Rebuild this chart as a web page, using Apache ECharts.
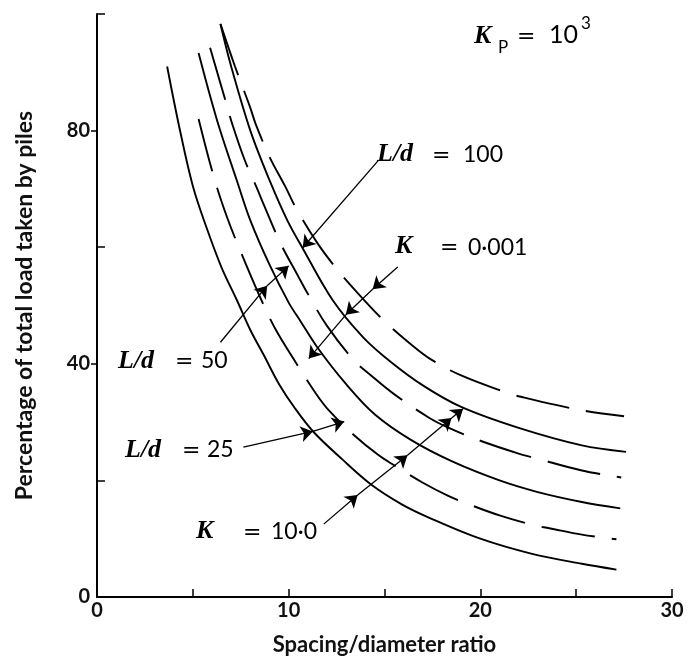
<!DOCTYPE html>
<html>
<head>
<meta charset="utf-8">
<script src="https://cdn.jsdelivr.net/npm/echarts@6/dist/echarts.min.js"></script>
<style>html,body{margin:0;padding:0;background:#fff}#c{width:688px;height:664px}</style>
</head>
<body>
<div id="c"></div>
<script>
// ---- data ----
const xLabelValues = [0, 10, 20, 30];
const xTickValues = [5, 10, 15, 20, 25, 30];
const yLabelValues = [0, 40, 80];
const yInnerTickValues = [20, 60, 100];

// solid curves (bottom to top)
const curveS1 = [[3.66,91],[4.3,80.5],[5.0,70.5],[5.7,63.5],[6.5,56.5],[7.3,50.9],[8.0,45.8],[8.7,41.5],[9.5,36.5],[10.3,32.5],[11.3,28.3],[12.8,23.6],[14.3,19.3],[15.9,15.9],[17.4,13.5],[20,10],[22.7,7.4],[25.3,5.7],[27.1,4.7]];
const curveS2 = [[5.3,93.3],[6.27,81.7],[7.3,71.4],[8.0,64.6],[9.0,57],[10.0,50.5],[10.6,47.4],[11.5,42.8],[13,36.5],[14.5,31.3],[16.4,26.9],[18.5,23.3],[21,20],[23,18],[25.3,16.3],[27.3,15.2]];
const curveS3 = [[6.44,98.3],[7.0,91],[8.0,80],[9.0,71.5],[9.93,64.6],[10.7,60],[12.3,50.9],[13.9,44.5],[15.3,40.4],[17,36.3],[19.0,32.6],[22,29],[25.3,26.0],[27.6,24.9]];
// dashed curves (bottom to top)
const curveD1 = [[5.3,82],[6.1,72],[6.8,65],[7.5,59.2],[8.5,51.5],[9.3,46],[10.3,40.6],[11.4,35],[12.1,32],[13.4,27.8],[14.7,24.3],[15.5,22.6],[17,19.6],[18.3,17.4],[19.4,15.9],[21,14],[22.8,12.3],[23.6,11.8],[25.3,10.7],[27.1,9.9]];
const curveD2 = [[5.9,94.2],[6.75,84.6],[7.05,81.2],[7.7,75],[8.36,70],[8.7,67.3],[9.6,60.5],[10.5,55],[11.0,52],[12.0,46.5],[13.4,40.6],[14.3,38],[15.5,34.8],[17.3,30.8],[18.3,29.1],[20,26.8],[22.0,24.6],[22.9,23.8],[25.3,21.7],[27.35,20.5]];
const curveD3 = [[6.44,98.3],[7.2,91],[8.0,83.9],[8.27,81.2],[9.0,75.5],[9.84,70.3],[10.4,66.6],[11.5,60.7],[12.5,56.3],[13.5,52.5],[15,47.3],[16.5,43],[17.4,40.8],[19,38],[21.5,34.9],[22.3,34.2],[24,32.9],[25.5,31.9],[27.5,31.0]];

// annotation arrows (data units)
const arrowLd100 = [[14.66,74.8],[10.73,59.9]];
const arrowLd50 = [[6.44,43.7],[8.88,53.4],[10.0,56.8]];
const arrowLd25 = [[7.64,25.7],[11.26,28.4],[12.9,30.1]];
const arrowK001 = [[15.69,56.6],[14.38,52.8],[12.98,48.4],[11.05,40.9]];
const arrowK10 = [[11.83,12.5],[13.6,17.5],[16.2,24.3],[18.5,30.7],[19.1,32.3]];

// ---- chart ----
const chart = echarts.init(document.getElementById('c'), null, {renderer: 'canvas'});
const sansFont = 'Lato';
const serifIt = 'bold italic 26px "Liberation Serif"';
const eqFont = '22px "DejaVu Sans"';
const numFont = '23px ' + sansFont;

function segs(poly) {
  const out = [];
  for (let i = 0; i < poly.length - 1; i++) out.push({coords: [poly[i], poly[i + 1]]});
  return out;
}
const arrowData = [].concat(segs(arrowLd100), segs(arrowLd50), segs(arrowLd25), segs(arrowK001), segs(arrowK10));

function curve(data, dashed) {
  return {
    type: 'line', data: data, smooth: 0.35, showSymbol: false, silent: true,
    lineStyle: {color: '#000', width: 1.9, type: dashed ? [54, 17] : 'solid'},
    z: 3
  };
}

function t(x, y, text, font) {
  return {type: 'text', x: x, y: y, style: {text: text, font: font, fill: '#000', verticalAlign: 'middle', align: 'left'}, z: 10};
}

const option = {
  backgroundColor: '#fff',
  animation: false,
  grid: {left: 97, right: 16, top: 14, bottom: 67},
  xAxis: {
    type: 'value', min: 0, max: 30, interval: 5,
    name: 'Spacing/diameter ratio', nameLocation: 'middle', nameGap: 37,
    nameTextStyle: {fontFamily: sansFont, fontSize: 22, fontWeight: 'bold', color: '#111'},
    axisLine: {show: true, lineStyle: {color: '#000', width: 2}},
    axisTick: {show: true, inside: true, length: 8, customValues: xTickValues, lineStyle: {color: '#000', width: 1.5}},
    axisLabel: {customValues: xLabelValues, fontFamily: sansFont, fontSize: 20, fontWeight: 'bold', color: '#111', margin: 4},
    splitLine: {show: false}
  },
  yAxis: [{
    type: 'value', min: 0, max: 100, interval: 20,
    name: 'Percentage of total load taken by piles', nameLocation: 'middle', nameGap: 61, nameRotate: 90,
    nameTextStyle: {fontFamily: sansFont, fontSize: 23, fontWeight: 'bold', color: '#111'},
    axisLine: {show: true, lineStyle: {color: '#000', width: 2}},
    axisTick: {show: true, inside: false, length: 6, customValues: yLabelValues.slice(1), lineStyle: {color: '#000', width: 1.5}},
    axisLabel: {customValues: yLabelValues, fontFamily: sansFont, fontSize: 20, fontWeight: 'bold', color: '#111', margin: 7},
    splitLine: {show: false}
  }, {
    type: 'value', min: 0, max: 100, interval: 20, position: 'left', offset: 0,
    axisLine: {show: false},
    axisTick: {show: true, inside: true, length: 8, customValues: yInnerTickValues, lineStyle: {color: '#000', width: 1.5}},
    axisLabel: {show: false},
    splitLine: {show: false}
  }],
  series: [
    curve(curveS1, false), curve(curveD1, true),
    curve(curveS2, false), curve(curveD2, true),
    curve(curveS3, false), curve(curveD3, true),
    {
      type: 'lines', coordinateSystem: 'cartesian2d', silent: true,
      symbol: ['none', 'arrow'], symbolSize: [6, 12],
      lineStyle: {color: '#000', width: 1.3, opacity: 1, curveness: 0},
      data: arrowData, z: 4
    }
  ],
  graphic: [
    // Kp = 10^3
    t(474, 36, 'K', serifIt),
    t(498, 48, 'P', '17px ' + sansFont),
    t(517, 37, '=', eqFont),
    t(549, 35, '10', '25px ' + sansFont),
    t(581, 24, '3', '17px ' + sansFont),
    // L/d = 100
    t(377, 154, 'L/d', serifIt),
    t(432, 156, '=', eqFont),
    t(463, 155, '100', numFont),
    // K = 0·001
    t(395, 246, 'K', serifIt),
    t(440, 248, '=', eqFont),
    t(468, 248, '0·001', numFont),
    // L/d = 50
    t(118, 361, 'L/d', serifIt),
    t(175, 362, '=', eqFont),
    t(201, 361, '50', numFont),
    // L/d = 25
    t(125, 450, 'L/d', serifIt),
    t(182, 451, '=', eqFont),
    t(207, 450, '25', numFont),
    // K = 10·0
    t(196, 531, 'K', serifIt),
    t(243, 533, '=', eqFont),
    t(271, 532, '10·0', numFont)
  ]
};
chart.setOption(option);
</script>
</body>
</html>
